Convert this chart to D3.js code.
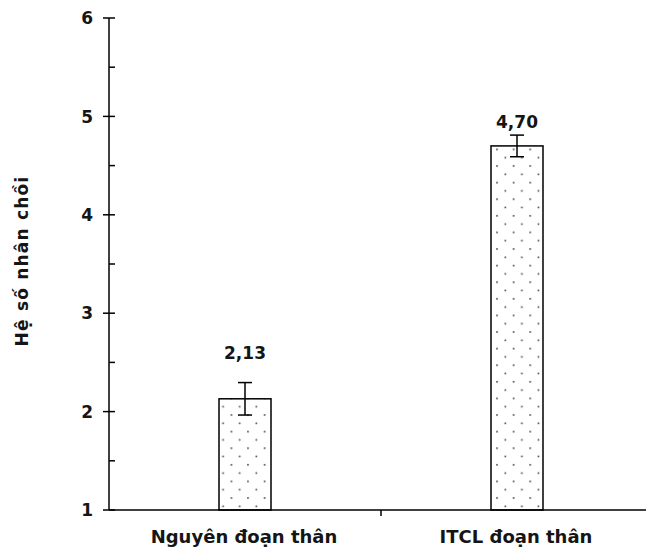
<!DOCTYPE html>
<html>
<head>
<meta charset="utf-8">
<script src="https://cdn.jsdelivr.net/npm/d3@7"></script>
<style>
  html, body { margin: 0; padding: 0; background: #fff; }
  svg { display: block; }
  text { font-family: "DejaVu Sans", Verdana, sans-serif; font-weight: bold; fill: #151515; }
</style>
</head>
<body>
<script>
// ---- data ----
const categories = ["Nguyên đoạn thân", "ITCL đoạn thân"];
const means = [2.13, 4.70];
const errors = [0.165, 0.11];
const valueLabels = ["2,13", "4,70"];
const yTicks = [1, 2, 3, 4, 5, 6];
const yMinorTicks = [1.5, 2.5, 3.5, 4.5, 5.5];
const yTitle = "Hệ số nhân chồi";

// ---- layout ----
const W = 646, H = 552;
const axisX = 109, baseY = 510, topY = 18;
const svg = d3.select("body").append("svg").attr("width", W).attr("height", H);

const y = d3.scaleLinear().domain([1, 6]).range([baseY, topY]);
const x = d3.scaleBand().domain(categories).range([axisX, axisX + 544]).padding(0);
const barW = 52;

// dot pattern
const defs = svg.append("defs");
const pat = defs.append("pattern").attr("id", "dots").attr("patternUnits", "userSpaceOnUse")
  .attr("width", 16.6).attr("height", 16.6).attr("x", 3).attr("y", 4);
pat.append("rect").attr("width", 16.6).attr("height", 16.6).attr("fill", "#fff");
pat.append("rect").attr("x", 3.5).attr("y", 3.5).attr("width", 1.6).attr("height", 1.6).attr("fill", "#444");
pat.append("rect").attr("x", 11.8).attr("y", 11.8).attr("width", 1.6).attr("height", 1.6).attr("fill", "#444");

// bars
svg.selectAll("rect.bar").data(categories).join("rect")
  .attr("class", "bar")
  .attr("x", d => x(d) + x.bandwidth() / 2 - barW / 2)
  .attr("y", (d, i) => y(means[i]))
  .attr("width", barW)
  .attr("height", (d, i) => y(1) - y(means[i]))
  .attr("fill", "url(#dots)")
  .attr("stroke", "#000")
  .attr("stroke-width", 1.5);

// error bars
const capHalf = 7;
const eb = svg.selectAll("g.err").data(categories).join("g").attr("class", "err")
  .attr("stroke", "#000").attr("stroke-width", 1.5);
eb.append("line")
  .attr("x1", d => x(d) + x.bandwidth() / 2).attr("x2", d => x(d) + x.bandwidth() / 2)
  .attr("y1", (d, i) => y(means[i] + errors[i])).attr("y2", (d, i) => y(means[i] - errors[i]));
eb.append("line")
  .attr("x1", d => x(d) + x.bandwidth() / 2 - capHalf).attr("x2", d => x(d) + x.bandwidth() / 2 + capHalf)
  .attr("y1", (d, i) => y(means[i] + errors[i])).attr("y2", (d, i) => y(means[i] + errors[i]));
eb.append("line")
  .attr("x1", d => x(d) + x.bandwidth() / 2 - capHalf).attr("x2", d => x(d) + x.bandwidth() / 2 + capHalf)
  .attr("y1", (d, i) => y(means[i] - errors[i])).attr("y2", (d, i) => y(means[i] - errors[i]));

// value labels (lift above error cap, in px)
const labelLift = [24, 7];
svg.selectAll("text.val").data(categories).join("text")
  .attr("class", "val")
  .attr("x", d => x(d) + x.bandwidth() / 2)
  .attr("y", (d, i) => y(means[i] + errors[i]) - labelLift[i])
  .attr("text-anchor", "middle")
  .attr("font-size", 17)
  .text((d, i) => valueLabels[i]);

// y axis
const yAxis = svg.append("g");
yAxis.append("line").attr("x1", axisX).attr("x2", axisX).attr("y1", y(6)).attr("y2", y(1))
  .attr("stroke", "#000").attr("stroke-width", 1.5);
yAxis.selectAll("line.maj").data(yTicks).join("line").attr("class", "maj")
  .attr("x1", axisX - 6).attr("x2", axisX + 6).attr("y1", d => y(d)).attr("y2", d => y(d))
  .attr("stroke", "#000").attr("stroke-width", 1.5);
yAxis.selectAll("line.min").data(yMinorTicks).join("line").attr("class", "min")
  .attr("x1", axisX).attr("x2", axisX + 6).attr("y1", d => y(d)).attr("y2", d => y(d))
  .attr("stroke", "#000").attr("stroke-width", 1.5);
yAxis.selectAll("text").data(yTicks).join("text")
  .attr("x", axisX - 16).attr("y", d => y(d)).attr("dy", "0.36em")
  .attr("text-anchor", "end").attr("font-size", 17)
  .text(d => d);

// x axis
const xAxis = svg.append("g");
xAxis.append("line").attr("x1", axisX).attr("x2", W).attr("y1", baseY).attr("y2", baseY)
  .attr("stroke", "#000").attr("stroke-width", 1.5);
xAxis.selectAll("line.t").data(categories.slice(1)).join("line").attr("class", "t")
  .attr("x1", d => x(d)).attr("x2", d => x(d)).attr("y1", baseY).attr("y2", baseY + 6)
  .attr("stroke", "#000").attr("stroke-width", 1.5);
xAxis.selectAll("text").data(categories).join("text")
  .attr("x", d => x(d) + x.bandwidth() / 2 - 1)
  .attr("y", 543)
  .attr("text-anchor", "middle").attr("font-size", 18)
  .text(d => d);

// y title
svg.append("text")
  .attr("transform", "translate(28,261) rotate(-90)")
  .attr("text-anchor", "middle")
  .attr("font-size", 17)
  .attr("letter-spacing", 1.2)
  .text(yTitle);
</script>
</body>
</html>
